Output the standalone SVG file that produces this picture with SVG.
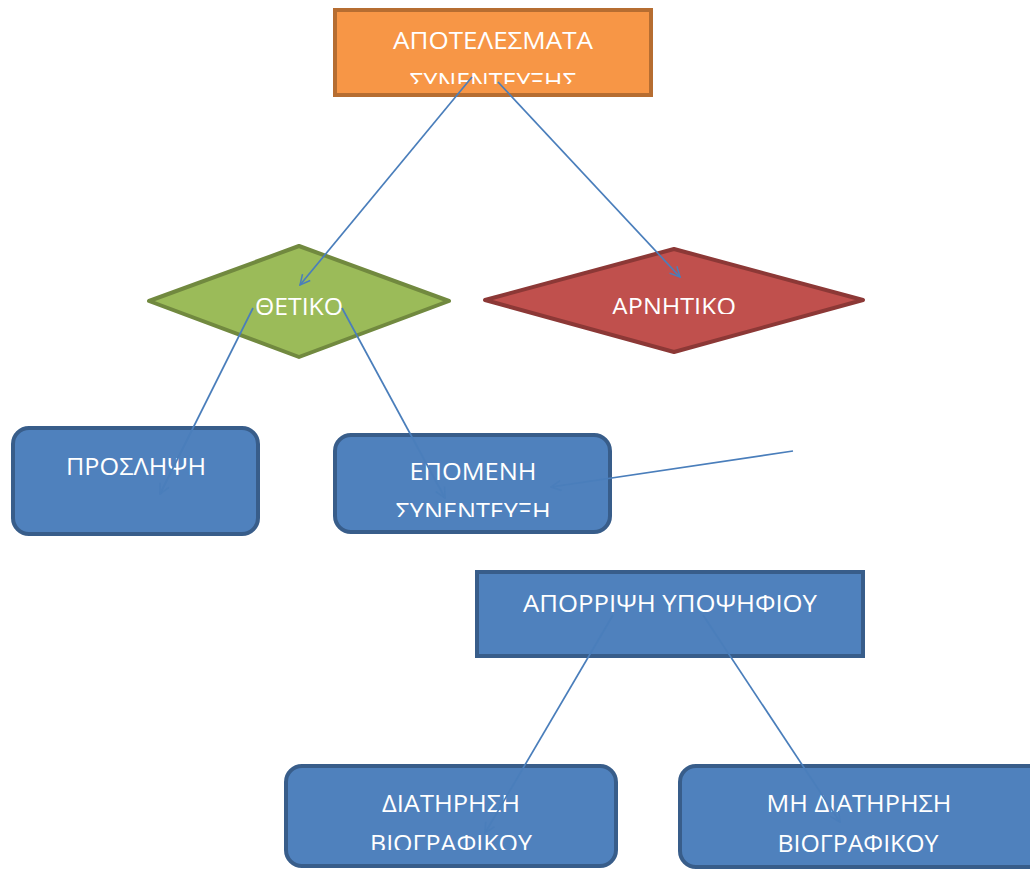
<svg xmlns="http://www.w3.org/2000/svg" width="1030" height="871" viewBox="0 0 1030 871">
<style>
.t{font-family:"Open Sans","Noto Sans","DejaVu Sans",sans-serif;font-size:23.5px;fill:#ffffff;text-anchor:middle}
.box{fill:#4f81bd;stroke:#385d8a;stroke-width:4}
.con{stroke:#4a7ebb;stroke-width:1.7;fill:none;marker-end:url(#arr)}
</style>
<defs>
<marker id="arr" viewBox="0 0 12 12" refX="11" refY="6" markerWidth="12" markerHeight="12" markerUnits="userSpaceOnUse" orient="auto">
<path d="M1,1 L11,6 L1,11" fill="none" stroke="#4a7ebb" stroke-width="1.5"/>
</marker>
<clipPath id="c1"><rect x="334" y="9" width="318" height="75"/></clipPath>
<clipPath id="c2"><rect x="484" y="248" width="380" height="66"/></clipPath>
<clipPath id="c3"><rect x="334" y="434" width="277" height="83"/></clipPath>
<clipPath id="c4"><rect x="285" y="765" width="332" height="85"/></clipPath>
</defs>
<g id="n-results">
<rect x="335" y="10" width="316" height="85" fill="#f79646" stroke="#b66d31" stroke-width="4"/>
<g clip-path="url(#c1)">
<text class="t" x="493" y="49" textLength="200" lengthAdjust="spacingAndGlyphs">ΑΠΟΤΕΛΕΣΜΑΤΑ</text>
<text class="t" x="493" y="90" textLength="167" lengthAdjust="spacingAndGlyphs">ΣΥΝΕΝΤΕΥΞΗΣ</text>
</g>
</g>
<g id="n-positive">
<polygon points="149,301 299,246 449,301 299,357" fill="#9bbb59" stroke="#71893f" stroke-width="4" stroke-linejoin="round"/>
<text class="t" x="299" y="315" textLength="88" lengthAdjust="spacingAndGlyphs">ΘΕΤΙΚΟ</text>
</g>
<g id="n-negative">
<polygon points="485,300 674,249 863,300 674,352" fill="#c0504d" stroke="#8c3836" stroke-width="4" stroke-linejoin="round"/>
<g clip-path="url(#c2)">
<text class="t" x="674" y="315" textLength="124" lengthAdjust="spacingAndGlyphs">ΑΡΝΗΤΙΚΟ</text>
</g>
</g>
<g id="n-hire">
<rect class="box" x="13" y="428" width="245" height="106" rx="16"/>
<text class="t" x="136" y="475" textLength="140" lengthAdjust="spacingAndGlyphs">ΠΡΟΣΛΗΨΗ</text>
</g>
<g id="n-next">
<rect class="box" x="335" y="435" width="275" height="97" rx="16"/>
<g clip-path="url(#c3)">
<text class="t" x="473" y="480" textLength="127" lengthAdjust="spacingAndGlyphs">ΕΠΟΜΕΝΗ</text>
<text class="t" x="473" y="520" textLength="155" lengthAdjust="spacingAndGlyphs">ΣΥΝΕΝΤΕΥΞΗ</text>
</g>
</g>
<g id="n-reject">
<rect class="box" x="477" y="572" width="386" height="84"/>
<text class="t" x="670" y="612" textLength="294" lengthAdjust="spacingAndGlyphs">ΑΠΟΡΡΙΨΗ ΥΠΟΨΗΦΙΟΥ</text>
</g>
<g id="n-keep">
<rect class="box" x="286" y="766" width="330" height="100" rx="16"/>
<g clip-path="url(#c4)">
<text class="t" x="451" y="812" textLength="138" lengthAdjust="spacingAndGlyphs">ΔΙΑΤΗΡΗΣΗ</text>
<text class="t" x="451" y="852" textLength="162" lengthAdjust="spacingAndGlyphs">ΒΙΟΓΡΑΦΙΚΟΥ</text>
</g>
</g>
<g id="n-nokeep">
<rect class="box" x="680" y="766" width="380" height="101" rx="16"/>
<text class="t" x="859" y="812" textLength="185" lengthAdjust="spacingAndGlyphs">ΜΗ ΔΙΑΤΗΡΗΣΗ</text>
<text class="t" x="858" y="852" textLength="161" lengthAdjust="spacingAndGlyphs">ΒΙΟΓΡΑΦΙΚΟΥ</text>
</g>
<g id="connectors">
<line class="con" x1="472" y1="77" x2="300" y2="285"/>
<line class="con" x1="498" y1="82" x2="680" y2="277"/>
<line class="con" x1="253" y1="308" x2="160" y2="494"/>
<line class="con" x1="342" y1="308" x2="445" y2="498"/>
<line class="con" x1="793" y1="451" x2="551" y2="487"/>
<line class="con" x1="613" y1="615" x2="485" y2="833"/>
<line class="con" x1="703" y1="615" x2="840" y2="822"/>
</g>
</svg>
